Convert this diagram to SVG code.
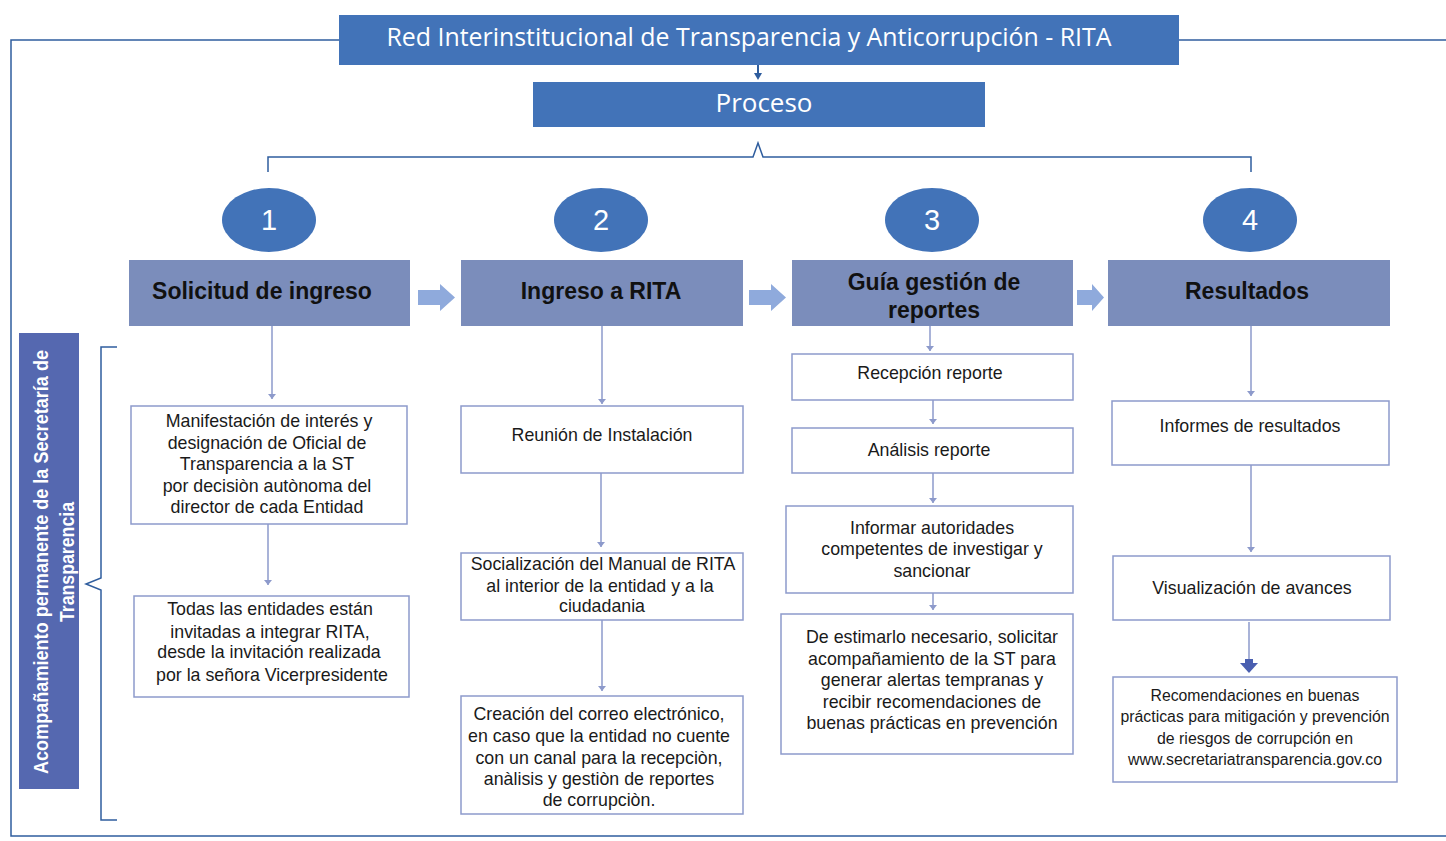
<svg xmlns="http://www.w3.org/2000/svg" width="1446" height="841" viewBox="0 0 1446 841">
<defs>
<style>
.frame{fill:none;stroke:#2f5d9e;stroke-width:1.5}
.title{fill:#4273b8}
.tt{fill:#fff;font-family:"Open Sans","Liberation Sans",sans-serif;font-size:26px;text-anchor:middle}
.circ{fill:#4273b8}
.num{fill:#fff;font-family:"Liberation Sans",sans-serif;font-size:29px;text-anchor:middle}
.head{fill:#7b8dbb}
.ht{fill:#111;font-family:"Liberation Sans",Arial,sans-serif;font-size:23px;font-weight:bold;text-anchor:middle}
.box{fill:#fff;stroke:#8d9acb;stroke-width:1.5}
.bt{fill:#1a1a1a;font-family:"Liberation Sans",Arial,sans-serif;font-size:17.8px;text-anchor:middle}
.conn{fill:none;stroke:#8d9acb;stroke-width:1.5}
.blk{fill:#8faadc}
.side{fill:#5568b0}
.st{fill:#fff;font-family:"Liberation Sans",Arial,sans-serif;font-size:20px;font-weight:bold;text-anchor:middle}
</style>
<marker id="ahv" viewBox="0 0 10 8" refX="5" refY="7" markerWidth="10" markerHeight="8" markerUnits="userSpaceOnUse" orient="0">
<path d="M1,2 L9,2 L5,7 Z" fill="#8d9acb"/>
</marker>
</defs>

<g id="frame">
<polyline class="frame" points="339,40 11,40 11,836 1446,836"/>
<line class="frame" x1="1179" y1="40" x2="1446" y2="40"/>
</g>

<g id="title">
<rect class="title" x="339" y="15" width="840" height="50"/>
<text class="tt" x="749" y="46" textLength="725" lengthAdjust="spacingAndGlyphs">Red Interinstitucional de Transparencia y Anticorrupción - RITA</text>
</g>

<g id="proceso">
<rect class="title" x="533" y="82" width="452" height="45"/>
<text class="tt" x="764" y="112">Proceso</text>
</g>

<g id="connectors">
<line x1="758" y1="65" x2="758" y2="74" stroke="#2f5d9e" stroke-width="2"/>
<path d="M754,73 L762,73 L758,80 Z" fill="#2f5d9e"/>
<polyline class="frame" points="268,172 268,157 753,157 758,143 763,157 1251,157 1251,172"/>
<path class="frame" d="M117,347 L101,347 L101,578 L86,584 L101,590 L101,820 L117,820"/>
<g class="conn">
<line x1="272" y1="326" x2="272" y2="399" marker-end="url(#ahv)"/>
<line x1="268" y1="524" x2="268" y2="585" marker-end="url(#ahv)"/>
<line x1="602" y1="326" x2="602" y2="404" marker-end="url(#ahv)"/>
<line x1="601" y1="473" x2="601" y2="547" marker-end="url(#ahv)"/>
<line x1="602" y1="620" x2="602" y2="691" marker-end="url(#ahv)"/>
<line x1="930" y1="326" x2="930" y2="351" marker-end="url(#ahv)"/>
<line x1="933" y1="400" x2="933" y2="424" marker-end="url(#ahv)"/>
<line x1="933" y1="473" x2="933" y2="503" marker-end="url(#ahv)"/>
<line x1="933" y1="593" x2="933" y2="610" marker-end="url(#ahv)"/>
<line x1="1251" y1="326" x2="1251" y2="396" marker-end="url(#ahv)"/>
<line x1="1251" y1="465" x2="1251" y2="552" marker-end="url(#ahv)"/>
<line x1="1249" y1="622" x2="1249" y2="664"/>
</g>
<path d="M1240,663 L1258,663 L1249,673 Z" fill="#4a5fb0"/>
<rect x="1245" y="659" width="8" height="5" fill="#4a5fb0"/>
<path class="blk" d="M418,290 L440,290 L440,284 L455,297.5 L440,311 L440,305 L418,305 Z"/>
<path class="blk" d="M749,290 L771,290 L771,284 L786,297.5 L771,311 L771,305 L749,305 Z"/>
<path class="blk" d="M1077,290 L1092,290 L1092,284 L1104,297.5 L1092,311 L1092,305 L1077,305 Z"/>
</g>

<g id="side-label">
<rect class="side" x="19" y="333" width="60" height="456"/>
<text class="st" transform="translate(49,562) rotate(-90)"><tspan x="0" y="-1" textLength="424" lengthAdjust="spacingAndGlyphs">Acompañamiento permanente de la Secretaría de</tspan><tspan x="0" y="25" textLength="120" lengthAdjust="spacingAndGlyphs">Transparencia</tspan></text>
</g>

<g id="step1">
<ellipse class="circ" cx="269" cy="220" rx="47" ry="32"/>
<text class="num" x="269" y="230">1</text>
<rect class="head" x="129" y="260" width="281" height="66"/>
<text class="ht" x="262" y="299">Solicitud de ingreso</text>
</g>
<g id="step2">
<ellipse class="circ" cx="601" cy="220" rx="47" ry="32"/>
<text class="num" x="601" y="230">2</text>
<rect class="head" x="461" y="260" width="282" height="66"/>
<text class="ht" x="601" y="299">Ingreso a RITA</text>
</g>
<g id="step3">
<ellipse class="circ" cx="932" cy="220" rx="47" ry="32"/>
<text class="num" x="932" y="230">3</text>
<rect class="head" x="792" y="260" width="281" height="66"/>
<text class="ht" x="934" y="290">Guía gestión de</text>
<text class="ht" x="934" y="318">reportes</text>
</g>
<g id="step4">
<ellipse class="circ" cx="1250" cy="220" rx="47" ry="32"/>
<text class="num" x="1250" y="230">4</text>
<rect class="head" x="1108" y="260" width="282" height="66"/>
<text class="ht" x="1247" y="299">Resultados</text>
</g>

<g id="a1">
<rect class="box" x="131" y="406" width="276" height="118"/>
<text class="bt"><tspan x="269" y="427">Manifestación de interés y</tspan><tspan x="267" y="449">designación de Oficial de</tspan><tspan x="267" y="470">Transparencia a la ST</tspan><tspan x="267" y="492">por decisiòn autònoma del</tspan><tspan x="267" y="513">director de cada Entidad</tspan></text>
</g>
<g id="a2">
<rect class="box" x="134" y="596" width="275" height="101"/>
<text class="bt"><tspan x="270" y="615">Todas las entidades están</tspan><tspan x="270" y="638">invitadas a integrar RITA,</tspan><tspan x="269" y="658">desde la invitación realizada</tspan><tspan x="272" y="681">por la señora Vicerpresidente</tspan></text>
</g>

<g id="b1">
<rect class="box" x="461" y="406" width="282" height="67"/>
<text class="bt" x="602" y="441">Reunión de Instalación</text>
</g>
<g id="b2">
<rect class="box" x="461" y="553" width="282" height="67"/>
<text class="bt"><tspan x="603" y="570">Socialización del Manual de RITA</tspan><tspan x="600" y="592">al interior de la entidad y a la</tspan><tspan x="602" y="612">ciudadania</tspan></text>
</g>
<g id="b3">
<rect class="box" x="461" y="696" width="282" height="118"/>
<text class="bt"><tspan x="599" y="720">Creación del correo electrónico,</tspan><tspan x="599" y="742">en caso que la entidad no cuente</tspan><tspan x="599" y="764">con un canal para la recepciòn,</tspan><tspan x="599" y="785">anàlisis y gestiòn de reportes</tspan><tspan x="599" y="806">de corrupciòn.</tspan></text>
</g>

<g id="c1">
<rect class="box" x="792" y="354" width="281" height="46"/>
<text class="bt" x="930" y="379">Recepción reporte</text>
</g>
<g id="c2">
<rect class="box" x="792" y="428" width="281" height="45"/>
<text class="bt" x="929" y="456">Análisis reporte</text>
</g>
<g id="c3">
<rect class="box" x="786" y="506" width="287" height="87"/>
<text class="bt"><tspan x="932" y="534">Informar autoridades</tspan><tspan x="932" y="555">competentes de investigar y</tspan><tspan x="932" y="577">sancionar</tspan></text>
</g>
<g id="c4">
<rect class="box" x="781" y="614" width="292" height="140"/>
<text class="bt"><tspan x="932" y="643">De estimarlo necesario, solicitar</tspan><tspan x="932" y="665">acompañamiento de la ST para</tspan><tspan x="932" y="686">generar alertas tempranas y</tspan><tspan x="932" y="708">recibir recomendaciones de</tspan><tspan x="932" y="729">buenas prácticas en prevención</tspan></text>
</g>

<g id="d1">
<rect class="box" x="1112" y="401" width="277" height="64"/>
<text class="bt" x="1250" y="432">Informes de resultados</text>
</g>
<g id="d2">
<rect class="box" x="1113" y="556" width="277" height="64"/>
<text class="bt" x="1252" y="594">Visualización de avances</text>
</g>
<g id="d3">
<rect class="box" x="1113" y="677" width="284" height="105"/>
<text class="bt" style="font-size:16px"><tspan x="1255" y="701" textLength="209" lengthAdjust="spacingAndGlyphs">Recomendaciones en buenas</tspan><tspan x="1255" y="722" textLength="269" lengthAdjust="spacingAndGlyphs">prácticas para mitigación y prevención</tspan><tspan x="1255" y="744" textLength="196" lengthAdjust="spacingAndGlyphs">de riesgos de corrupción en</tspan><tspan x="1255" y="765" textLength="254" lengthAdjust="spacingAndGlyphs">www.secretariatransparencia.gov.co</tspan></text>
</g>
</svg>
